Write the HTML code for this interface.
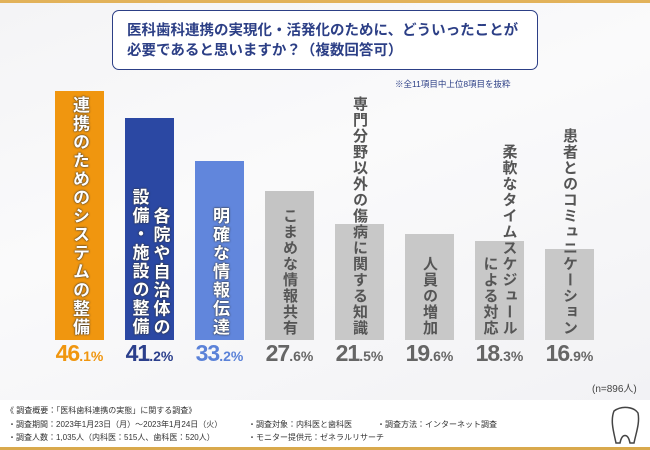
<!DOCTYPE html>
<html><head><meta charset="utf-8"><style>
body{margin:0;width:650px;height:450px;overflow:hidden;font-family:"Liberation Sans","Noto Sans CJK JP",sans-serif;}
#wrap{position:relative;width:650px;height:450px;background:linear-gradient(160deg,#f4f4f6 0%,#fafafb 40%,#f1f1f4 100%);overflow:hidden}
.topline{position:absolute;left:0;top:0;width:650px;height:3px;background:#e2b25a}
.title{position:absolute;left:112px;top:10px;width:426px;height:60px;border:1.5px solid #2c3f86;border-radius:7px;background:#fff;box-sizing:border-box}
.title div{position:absolute;left:14px;top:10px;color:#2c3f86;font-weight:bold;font-size:14.5px;line-height:20px;white-space:nowrap}
.note{position:absolute;left:395px;top:78px;font-size:8.5px;color:#2c3f86}
.bar{position:absolute}
.lab{position:absolute;writing-mode:vertical-rl;text-orientation:upright;text-align:end;font-weight:bold;white-space:pre}
.pct{position:absolute;top:340px;width:70px;text-align:center;font-weight:bold;font-size:23px;letter-spacing:-1px}
.pct small{font-size:14px;letter-spacing:0}
.n{position:absolute;left:592px;top:380px;font-size:10px;color:#444}
.foot{position:absolute;left:0;top:400px;width:650px;height:47px;background:#fff}
.gold{position:absolute;left:0;top:447px;width:650px;height:3px;background:#d9a94c}
.ft{position:absolute;font-size:8px;color:#333;white-space:nowrap}
</style></head><body>
<div id="wrap">
<div class="topline"></div>
<div class="title"><div>医科歯科連携の実現化・活発化のために、どういったことが<br>必要であると思いますか？（複数回答可）</div></div>
<div class="note">※全11項目中上位8項目を抜粋</div>
<div id="plot"></div>
<div class="n">(n=896人)</div>
<div class="foot">
<div class="ft" style="left:6px;top:5px">《 調査概要：「医科歯科連携の実態」に関する調査》</div>
<div class="ft" style="left:8px;top:19px">・調査期間：2023年1月23日（月）～2023年1月24日（火）</div>
<div class="ft" style="left:8px;top:32px">・調査人数：1,035人（内科医：515人、歯科医：520人）</div>
<div class="ft" style="left:248px;top:19px">・調査対象：内科医と歯科医</div>
<div class="ft" style="left:248px;top:32px">・モニター提供元：ゼネラルリサーチ</div>
<div class="ft" style="left:377px;top:19px">・調査方法：インターネット調査</div>
<svg style="position:absolute;left:608px;top:3px" width="34" height="42"><path d="M6 8 C14 2 26 4 30 10 C32 20 28 30 26 40 L22 40 C20 30 14 30 12 40 L8 40 C6 30 2 18 6 8Z" fill="none" stroke="#444" stroke-width="1.5"/></svg>
</div>
<div class="gold"></div>
</div>
<script>
const categories=["連携のためのシステムの整備","各院や自治体の\n設備・施設の整備","明確な情報伝達","こまめな情報共有","専門分野以外の傷病に関する知識","人員の増加","柔軟なタイムスケジュール\nによる対応","患者とのコミュニケーション"];
const values=[46.1,41.2,33.2,27.6,21.5,19.6,18.3,16.9];
const barColors=["#f0960f","#2b48a3","#6186dc","#c4c4c4","#c8c8c8","#c8c8c8","#c8c8c8","#c8c8c8"];
const pctColors=["#f0960f","#2b3f8c","#5b82d8","#666","#666","#666","#666","#666"];
const textColors=["#fff","#fff","#fff","#555","#555","#555","#555","#555"];
const plot=document.getElementById('plot');
const baseY=340, pxPer=5.4, x0=55, step=70, bw=49;
const xPos=i=>x0+i*step;
const yH=v=>v*pxPer;
categories.forEach((c,i)=>{
  const h=yH(values[i]);
  const b=document.createElement('div');
  b.className='bar';
  
  
  b.style.cssText=`left:${xPos(i)}px;top:${baseY-h}px;width:${bw}px;height:${h}px;background:${barColors[i]}`;
  plot.appendChild(b);
  const l=document.createElement('div');
  l.className='lab';
  
  
  const big=i<3;
  const fs=big?17:15;
  const ls=big?1.5:1;
  const lines=c.split('\n').length;
  const lh=big?21:19;
  const w=lines*lh;
  l.style.cssText=`left:${xPos(i)+bw/2-w/2}px;bottom:${450-336}px;font-size:${fs}px;letter-spacing:${ls}px;line-height:${lh}px;color:${textColors[i]};height:250px;`+(big?'text-shadow:0 0 2px #333,0 0 1px #333;':'');
  l.textContent=c;
  plot.appendChild(l);
  const p=document.createElement('div');
  p.className='pct';
  
  
  const parts=values[i].toFixed(1).split('.');
  p.innerHTML=parts[0]+'<small>.'+parts[1]+'%</small>';
  p.style.left=(xPos(i)+bw/2-35)+'px';
  p.style.color=pctColors[i];
  plot.appendChild(p);
});
</script>
</body></html>
